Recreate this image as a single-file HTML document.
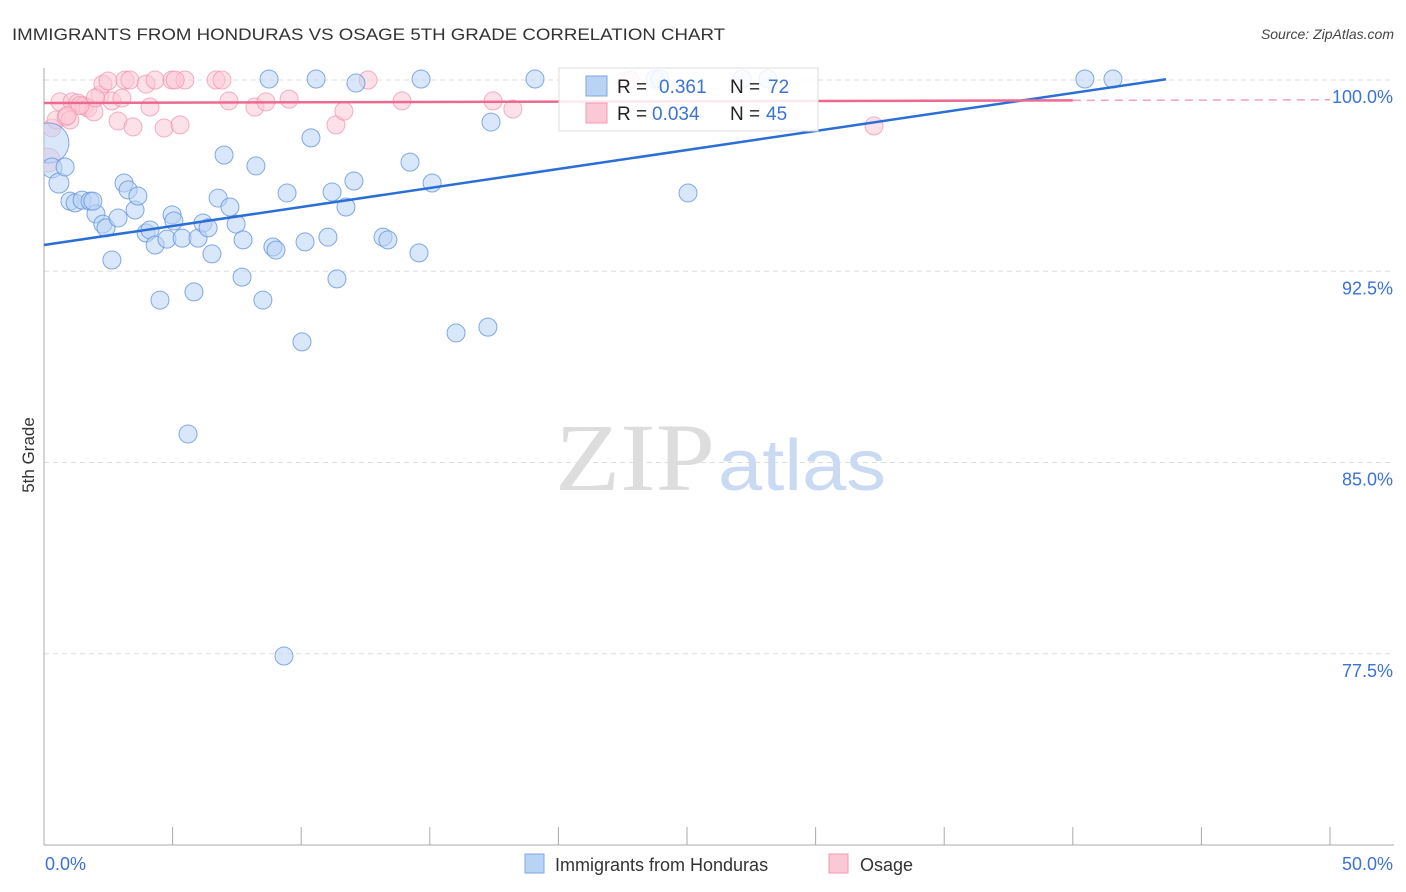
<!DOCTYPE html>
<html><head><meta charset="utf-8">
<style>
html,body{margin:0;padding:0;background:#fff;}
svg{display:block;font-family:"Liberation Sans",sans-serif;}
</style></head>
<body>
<svg id="chart" width="1406" height="892" viewBox="0 0 1406 892">
  <defs><clipPath id="plotclip"><rect x="44" y="60" width="1360" height="785"/></clipPath></defs>
  <text x="12" y="40" font-size="17" fill="#333" textLength="713" lengthAdjust="spacingAndGlyphs">IMMIGRANTS FROM HONDURAS VS OSAGE 5TH GRADE CORRELATION CHART</text>
  <text x="1394" y="39" font-size="14" fill="#444" font-style="italic" text-anchor="end">Source: ZipAtlas.com</text>
  <g id="grid"></g>
  <g>
    <text x="555" y="490" font-size="96" font-family="Liberation Serif,serif" fill="#ddd" textLength="160" lengthAdjust="spacingAndGlyphs">ZIP</text>
    <text x="718" y="490" font-size="72" fill="#c9daf2" textLength="168" lengthAdjust="spacingAndGlyphs">atlas</text>
  </g>
  <g id="axes"></g>
  <g id="pink" clip-path="url(#plotclip)"></g>
  <g id="blue" clip-path="url(#plotclip)"></g>
  <g id="lines"></g>
  <text transform="translate(34,455) rotate(-90)" font-size="17" fill="#333" text-anchor="middle">5th Grade</text>
  <g>
    <rect x="559" y="68" width="259" height="63" fill="#fff" fill-opacity="0.85" stroke="#ddd"/>
    <rect x="586" y="76" width="21" height="20" fill="#b9d3f5" stroke="#7ea7e0"/>
    <rect x="586" y="103" width="21" height="20" fill="#fbc8d6" stroke="#f19ab3"/>
    <text x="617" y="93" font-size="19" fill="#222">R = </text>
    <text x="659" y="93" font-size="19" fill="#3b72d4">0.361</text>
    <text x="730" y="93" font-size="19" fill="#222">N = </text>
    <text x="768" y="93" font-size="19" fill="#3b72d4">72</text>
    <text x="617" y="120" font-size="19" fill="#222">R = </text>
    <text x="652" y="120" font-size="19" fill="#3b72d4">0.034</text>
    <text x="730" y="120" font-size="19" fill="#222">N = </text>
    <text x="766" y="120" font-size="19" fill="#3b72d4">45</text>
  </g>
  <g>
    <rect x="525" y="854" width="19" height="19" fill="#b9d3f5" stroke="#7ea7e0"/>
    <text x="555" y="871" font-size="18" fill="#333">Immigrants from Honduras</text>
    <rect x="829" y="854" width="19" height="19" fill="#fbc8d6" stroke="#f19ab3"/>
    <text x="860" y="871" font-size="18" fill="#333">Osage</text>
  </g>
</svg>
<script>
const blueX=[0.19,0.31,0.58,0.82,1.01,1.21,1.48,1.79,2.02,2.29,2.41,2.64,2.88,3.11,3.27,3.54,3.65,3.97,4.12,4.32,4.51,4.78,4.98,5.05,5.37,5.6,5.83,5.99,6.18,6.38,6.53,6.77,7.0,7.23,7.47,7.7,7.74,8.24,8.51,8.75,8.9,9.02,9.33,9.45,10.03,10.15,10.38,10.58,11.04,11.2,11.39,11.74,12.05,12.13,13.18,13.37,14.23,14.58,14.66,15.09,16.02,17.26,17.38,19.09,23.76,23.95,25.04,27.14,28.15,40.47,41.56,1.9];
const blueY=[97.53,96.55,95.96,96.59,95.25,95.18,95.29,95.25,94.75,94.35,94.2,92.94,94.59,95.96,95.69,94.9,95.45,94.0,94.12,93.53,91.37,93.76,94.71,94.47,93.8,86.12,91.69,93.8,94.39,94.2,93.18,95.37,97.06,95.02,94.35,92.27,93.73,96.63,91.37,100.04,93.45,93.33,77.41,95.57,89.73,93.65,97.73,100.04,93.84,95.61,92.2,95.02,96.04,99.88,93.84,93.73,96.78,93.22,100.04,95.96,90.08,90.31,98.35,100.04,100.04,100.04,95.57,100.04,100.04,100.04,100.04,95.25];
const blueR=[20,10,10,9,9,9,9,9,9,9,9,9,9,9,9,9,9,9,9,9,9,9,9,9,9,9,9,9,9,9,9,9,9,9,9,9,9,9,9,9,9,9,9,9,9,9,9,9,9,9,9,9,9,9,9,9,9,9,9,9,9,9,9,9,9,9,9,9,9,9,9,9];
const pinkX=[0.16,0.31,0.47,0.62,0.86,1.01,1.09,1.32,1.56,1.71,1.94,2.18,2.29,2.49,2.64,2.88,3.03,3.15,3.34,3.46,3.97,4.12,4.32,4.67,4.98,5.29,5.48,6.69,6.92,7.19,8.2,8.63,9.53,11.35,11.66,12.6,13.92,17.46,18.23,22.78,32.27,1.4,2.0,0.9,5.1];
const pinkY=[96.86,98.12,98.43,99.14,98.55,98.43,99.14,99.1,98.98,98.9,98.75,99.41,99.84,99.96,99.18,98.39,99.29,100,100,98.16,99.84,98.94,100,98.12,100,98.24,100,100,100,99.18,98.94,99.14,99.25,98.24,98.78,100,99.18,99.18,98.86,100,98.2,99.0,99.3,98.6,100];
const blueTrend=[93.53,0.149];
const pinkTrend=[99.1,0.0025];
const yTicks=[100,92.5,85,77.5];
const yTickLabels=["100.0%","92.5%","85.0%","77.5%"];

const X0=44,X1=1330,Y100=80,PXPER=25.5;
const sx=v=>X0+(v/50)*(X1-X0);
const sy=v=>Y100+(100-v)*PXPER;
const NS="http://www.w3.org/2000/svg";
function mk(tag,attrs,parent){const e=document.createElementNS(NS,tag);for(const k in attrs)e.setAttribute(k,attrs[k]);parent.appendChild(e);return e;}
const grid=document.getElementById('grid'),axes=document.getElementById('axes');
yTicks.forEach((t,i)=>{
  const g=mk('line',{x1:X0,x2:1394,y1:sy(t),y2:sy(t),stroke:'#ddd','stroke-dasharray':'5,4'},grid);
  
  
  const l=mk('text',{x:1393,y:sy(t)+23,'font-size':18,fill:'#3b72d4','text-anchor':'end'},axes);
  l.textContent=yTickLabels[i];
  
  
});
mk('line',{x1:X0,x2:X0,y1:68,y2:845,stroke:'#aaa'},axes);
mk('line',{x1:X0,x2:1394,y1:845,y2:845,stroke:'#aaa'},axes);
for(let i=0;i<=10;i++){
  const t=mk('line',{x1:sx(i*5),x2:sx(i*5),y1:827,y2:845,stroke:'#aaa'},axes);
  
  
}
const xl0=mk('text',{x:45,y:870,'font-size':18,fill:'#3b72d4'},axes);xl0.textContent='0.0%';


const xl1=mk('text',{x:1393,y:870,'font-size':18,fill:'#3b72d4','text-anchor':'end'},axes);xl1.textContent='50.0%';



const pg=document.getElementById('pink');
pinkX.forEach((x,i)=>{
  const c=mk('circle',{cx:sx(x),cy:sy(pinkY[i]),r:i===0?12:9,fill:'#fbc8d6','fill-opacity':0.55,stroke:'#f08fac','stroke-opacity':0.7},pg);
  
  
});
const bg=document.getElementById('blue');
blueX.forEach((x,i)=>{
  const c=mk('circle',{cx:sx(x),cy:sy(blueY[i]),r:blueR[i],fill:'#b9d3f5','fill-opacity':0.55,stroke:'#5b8fdc','stroke-opacity':0.75},bg);
  
  
});
const lg=document.getElementById('lines');
const bEnd=(100.03-blueTrend[0])/blueTrend[1];
const bl=mk('line',{x1:sx(0),y1:sy(blueTrend[0]),x2:sx(bEnd),y2:sy(blueTrend[0]+blueTrend[1]*bEnd),stroke:'#2a6fd6','stroke-width':2.5},lg);


const pl=mk('line',{x1:sx(0),y1:sy(pinkTrend[0]),x2:sx(40),y2:sy(pinkTrend[0]+pinkTrend[1]*40),stroke:'#ec6a92','stroke-width':2.5},lg);


const pd=mk('line',{x1:sx(40),y1:sy(pinkTrend[0]+pinkTrend[1]*40),x2:sx(50),y2:sy(pinkTrend[0]+pinkTrend[1]*50),stroke:'#f0a0b8','stroke-width':1.5,'stroke-dasharray':'8,6'},lg);


</script>
</body></html>
